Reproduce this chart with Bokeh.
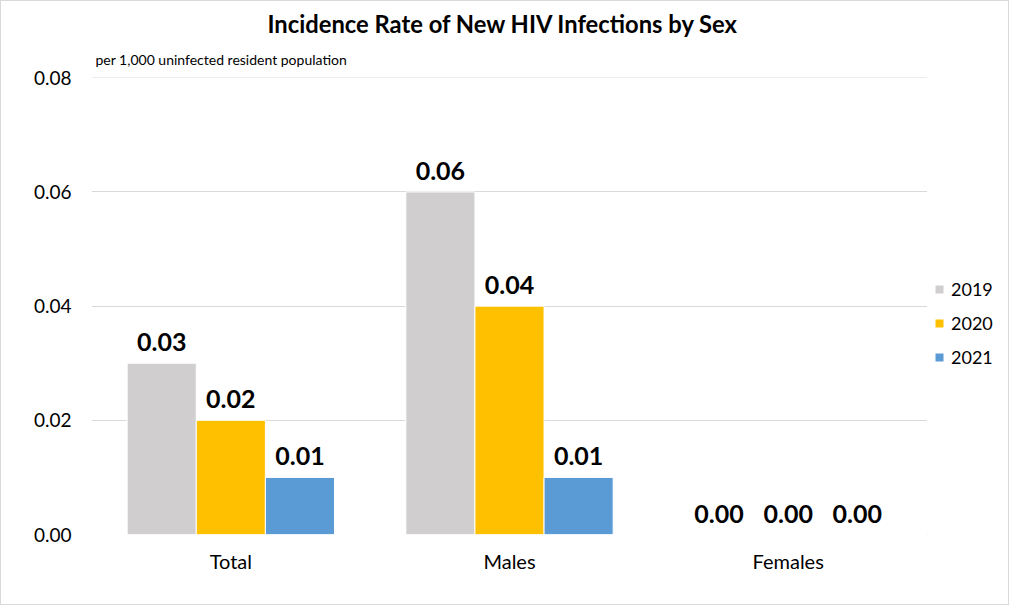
from bokeh.plotting import figure
from bokeh.layouts import row
from bokeh.models import ColumnDataSource, FactorRange, LabelSet, Legend, LegendItem, FixedTicker, NumeralTickFormatter, Range1d, Title
from bokeh.core.properties import value
from bokeh.transform import dodge
from bokeh.embed import file_html
from bokeh.resources import INLINE

categories = ["Total", "Males", "Females"]
years = ["2019", "2020", "2021"]
rate_2019 = [0.03, 0.06, 0.00]
rate_2020 = [0.02, 0.04, 0.00]
rate_2021 = [0.01, 0.01, 0.00]
y_ticks = [0.0, 0.02, 0.04, 0.06, 0.08]

colors = ["#D0CECE", "#FFC000", "#5B9BD5"]
series = [rate_2019, rate_2020, rate_2021]
offsets = [-0.248, 0.0, 0.248]
FONT = "Lato"

p = figure(width=926, height=603, x_range=FactorRange(factors=categories, range_padding=0),
           y_range=Range1d(0, 0.08005), output_backend="svg", toolbar_location=None,
           min_border_left=90, min_border_right=0, min_border_top=76, min_border_bottom=70)
p.x_range.range_padding = 0
p.title = None

sub = Title(text="per 1,000  uninfected resident population", align="left", offset=4, standoff=19,
            text_font=FONT, text_font_size="14px", text_font_style="normal", text_color="#000000")
p.add_layout(sub, "above")
main = Title(text="Incidence Rate of New HIV Infections by Sex", align="left", offset=176, standoff=4,
             text_font=FONT, text_font_size="23.75px", text_font_style="bold", text_color="#000000")
p.add_layout(main, "above")

for yr, vals, col, off in zip(years, series, colors, offsets):
    src = ColumnDataSource(dict(cat=categories, val=vals, lab=[f"{v:.2f}" for v in vals]))
    p.vbar(x=dodge("cat", off, range=p.x_range), top="val", width=0.248, source=src,
           fill_color=col, line_color="white", line_width=1)
    labels = LabelSet(x=dodge("cat", off, range=p.x_range), y="val", text="lab", source=src,
                      text_align="center", text_baseline="bottom", y_offset=12,
                      text_font=value(FONT), text_font_size=value("25px"),
                      text_font_style=value("bold"), text_color=value("#000000"))
    p.add_layout(labels)

p.yaxis.ticker = FixedTicker(ticks=y_ticks)
p.yaxis.formatter = NumeralTickFormatter(format="0.00")
p.yaxis.axis_line_color = None
p.yaxis.major_tick_line_color = None
p.yaxis.minor_tick_line_color = None
p.yaxis.major_label_text_font = FONT
p.yaxis.major_label_text_font_size = "19px"
p.yaxis.major_label_text_color = "#000000"
p.yaxis.major_label_standoff = 14

p.xaxis.axis_line_color = None
p.xaxis.major_tick_line_color = None
p.xaxis.major_label_text_font = FONT
p.xaxis.major_label_text_font_size = "20px"
p.xaxis.major_label_text_color = "#000000"
p.xaxis.major_label_standoff = 8

p.xgrid.grid_line_color = None
p.ygrid.grid_line_color = "#D9D9D9"
p.ygrid.ticker = FixedTicker(ticks=y_ticks)
p.outline_line_color = None

# legend panel (keys only; placeholder bars lie outside the visible range)
q = figure(width=81, height=603, x_range=Range1d(0, 1), y_range=Range1d(0, 1),
           output_backend="svg", toolbar_location=None,
           min_border_left=0, min_border_right=0, min_border_top=76, min_border_bottom=70)
q.axis.visible = False
q.grid.grid_line_color = None
q.outline_line_color = None
items = []
for yr, col in zip(years, colors):
    r = q.vbar(x=[-5], top=[-5], bottom=[-6], width=0.1, fill_color=col, line_color=None)
    items.append(LegendItem(label=yr, renderers=[r]))
legend = Legend(items=items, location=(7, 166), border_line_color=None, background_fill_alpha=0,
                glyph_width=10, glyph_height=10, label_text_font=FONT, label_text_font_size="18px",
                label_text_color="#000000",
                label_standoff=7, spacing=12, padding=6, margin=0, label_height=20)
q.add_layout(legend)

layout = row(p, q)
layout.styles = {"border": "1px solid #D9D9D9"}

open("out.html", "w").write(file_html(layout, INLINE))
